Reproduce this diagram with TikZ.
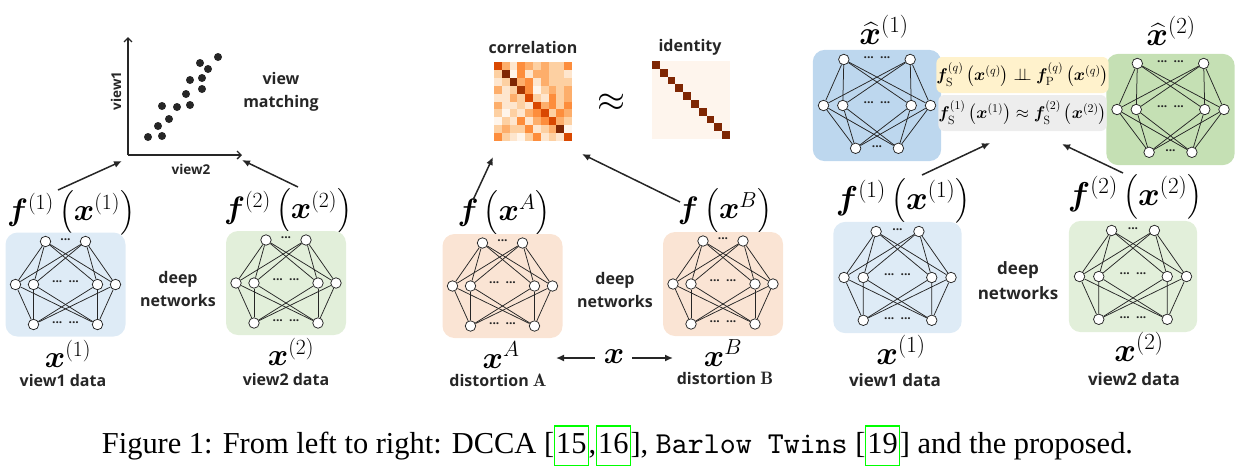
\RequirePackage{fix-cm}
\documentclass[tikz,border=0pt]{standalone}
\usepackage{amsmath}
\usepackage{bm}
\usepackage{graphicx}
\usepackage{fontspec}
\newfontfamily\lblfont{Open Sans}
\newfontfamily\capfont{Liberation Serif}
\usetikzlibrary{arrows.meta}
\usepackage{xcolor}

\definecolor{netblue}{RGB}{222,235,246}
\definecolor{netgreen}{RGB}{226,239,218}
\definecolor{netpeach}{RGB}{250,228,212}
\definecolor{topblue}{RGB}{189,215,238}
\definecolor{topgreen}{RGB}{197,224,180}
\definecolor{boxyellow}{RGB}{255,242,204}
\definecolor{boxgray}{RGB}{237,237,237}
\definecolor{inkgray}{RGB}{38,38,38}
\definecolor{iddiag}{RGB}{127,39,4}
\definecolor{idback}{RGB}{254,245,237}
% oranges colour scale of the heat map
\definecolor{O0}{RGB}{255,245,235}
\definecolor{O1}{RGB}{254,230,206}
\definecolor{O2}{RGB}{253,208,162}
\definecolor{O3}{RGB}{253,174,107}
\definecolor{O4}{RGB}{253,141,60}
\definecolor{O5}{RGB}{241,105,19}
\definecolor{O6}{RGB}{217,72,1}
\definecolor{O7}{RGB}{166,54,3}
\definecolor{O8}{RGB}{127,39,4}

\tikzset{%
	neuron/.style={
		circle,
		draw=inkgray,
		fill=white,
		line width=0.75pt,
		minimum size=10.5pt,
		inner sep=0pt
	},
	link/.style={draw=inkgray, line width=0.75pt},
	gapdots/.style={font=\lblfont\bfseries\fontsize{12}{12}\selectfont, text=inkgray, inner sep=0pt},
	lbl/.style={font=\lblfont\bfseries\fontsize{16}{23}\selectfont, text=inkgray, align=center, inner sep=0pt},
	lblR/.style={font=\lblfont\bfseries\fontsize{17}{25}\selectfont, text=inkgray, align=center, inner sep=0pt},
	axlbl/.style={font=\lblfont\bfseries\fontsize{13.5}{16}\selectfont, text=inkgray, inner sep=0pt},
	mlbl/.style={font=\fontsize{31}{35}\selectfont, inner sep=0pt},
	mlblR/.style={font=\fontsize{33}{37}\selectfont, inner sep=0pt},
	formbox/.style={minimum width=165pt, minimum height=36pt, rounded corners=6pt, inner sep=0pt, font=\fontsize{17}{20}\selectfont},
	arr/.style={-{Latex[length=8pt,width=7pt]}, line width=1.5pt, draw=inkgray},
	axis/.style={-{Straight Barb[length=4pt,width=8pt]}, line width=1.3pt, draw=inkgray},
}

% one small network on a rounded panel
% #1 name, #2 centre, #3 scale, #4 colour, #5 top half gap, #6 bottom half gap, #7 top dots, #8 bottom dots
\newcommand{\netpanel}[8]{%
	\begin{scope}[shift={#2}, scale=#3]
		\fill[#4, rounded corners=12pt] (-60,-52) rectangle (60,52);
		\node[neuron] (#1t1) at (-#5,-43) {};
		\node[neuron] (#1t2) at (#5,-43) {};
		\node[neuron] (#1m1) at (-50,0) {};
		\node[neuron] (#1m2) at (-32,0) {};
		\node[neuron] (#1m3) at (32,0) {};
		\node[neuron] (#1m4) at (50,0) {};
		\node[neuron] (#1b1) at (-#6,40) {};
		\node[neuron] (#1b2) at (#6,40) {};
		\foreach \p in {t1,t2,b1,b2}
			\foreach \q in {m1,m2,m3,m4}
				\draw[link] (#1\p) -- (#1\q);
		\node[gapdots] (#1dt) at (0,-45) {#7};
		\node[gapdots] (#1dm) at (0,-3) {...~~...};
		\node[gapdots] (#1db) at (0,38) {#8};
	\end{scope}}

\newcommand{\citebox}[1]{{\setlength{\fboxsep}{0.3pt}\setlength{\fboxrule}{0.35pt}\textcolor{green}{\fbox{\strut\textcolor{black}{#1}}}}}

\begin{document}
\begin{tikzpicture}[x=1pt, y=-1pt]
	\useasboundingbox (0,0) rectangle (1241,472);
	
	% DCCA: the matching plot
	\coordinate (orig) at (128,155);
	\coordinate (ytip) at (128,37);
	\coordinate (xtip) at (242,155);
	\draw[axis] (orig) -- (ytip);
	\draw[axis] (orig) -- (xtip);
	\node[axlbl, rotate=90] (v1ax) at (116,91) {view1};
	\node[axlbl] (v2ax) at (191,169) {view2};
	\foreach \px/\py in {148/137, 162/136, 158/126, 169/119, 162/106, 177/107, 190/105,
		186/94, 190/80, 202/89, 202/78, 200/63, 208/69, 218/57}
		\fill[inkgray] (\px,\py) circle (4pt);
	\node[lbl] (vmatch) at (281,92) {view\\matching};
	
	% DCCA: the two networks
	\node[mlbl] (fL1) at (71,213) {$\bm{f}^{(1)}\left(\bm{x}^{(1)}\right)$};
	\node[mlbl] (fL2) at (288,211) {$\bm{f}^{(2)}\left(\bm{x}^{(2)}\right)$};
	\netpanel{la}{(65.5,284.5)}{1}{netblue}{20}{32}{...}{...~~...}
	\netpanel{lb}{(286,283)}{1}{netgreen}{20}{32}{...}{...~~...}
	\node[lbl] (deepL) at (178,289) {deep\\networks};
	\node[mlbl] (xL1) at (68,354) {$\bm{x}^{(1)}$};
	\node[lbl] (dL1) at (63,380) {view1 data};
	\node[mlbl] (xL2) at (291,352) {$\bm{x}^{(2)}$};
	\node[lbl] (dL2) at (286,379) {view2 data};
	\coordinate (aL1s) at (58,190);
	\coordinate (aL1e) at (122,161);
	\coordinate (aL2s) at (298,187);
	\coordinate (aL2e) at (242,160);
	\draw[arr] (aL1s) -- (aL1e);
	\draw[arr] (aL2s) -- (aL2e);
	
	% Barlow Twins: correlation and identity
	\node[lbl] (corrlbl) at (533,47) {correlation};
	\node[minimum width=78pt, minimum height=79pt, inner sep=0pt, anchor=north west] (corr) at (494,62) {};
	\begin{scope}[shift={(corr.north west)}]
		\foreach \row [count=\i from 0] in {{6,3,1,4,3,2,3,2,2,4},{2,8,0,4,1,3,3,2,2,1},
			{1,2,8,3,4,1,3,2,2,2},{3,1,2,7,4,0,2,3,2,3},{1,1,3,2,6,2,1,4,2,3},
			{3,1,1,2,1,6,3,4,2,4},{2,0,2,1,3,4,6,2,4,3},{0,2,1,4,1,3,4,6,3,2},
			{2,3,2,2,4,1,2,3,8,0},{4,2,1,0,2,4,1,2,1,6}}
		{
			\foreach \v [count=\j from 0] in \row
				\fill[O\v] (\j*7.8,\i*7.9) rectangle ++(8,8.1);
		}
	\end{scope}
	\node[font=\fontsize{36}{40}\selectfont, inner sep=0pt] (approx) at (611,103) {$\approx$};
	\node[lbl] (idlbl) at (690,47) {identity};
	\node[fill=idback, minimum width=78pt, minimum height=78pt, inner sep=0pt, anchor=north west] (iden) at (652,61) {};
	\begin{scope}[shift={(iden.north west)}]
		\foreach \k in {0,...,9}
			\fill[iddiag] (\k*7.8,\k*7.8) rectangle ++(7.8,7.8);
	\end{scope}
	
	% Barlow Twins: the two networks
	\node[mlbl] (fA) at (504,213) {$\bm{f}\left(\bm{x}^{A}\right)$};
	\node[mlbl] (fB) at (725,211) {$\bm{f}\left(\bm{x}^{B}\right)$};
	\netpanel{ma}{(502.5,286)}{1}{netpeach}{20}{32}{...}{...~~...}
	\netpanel{mb}{(723,284)}{1}{netpeach}{20}{32}{...}{...~~...}
	\node[lbl] (deepM) at (615,290) {deep\\networks};
	\node[mlbl] (xA) at (501,355) {$\bm{x}^{A}$};
	\node[lbl] (dA) at (498,380) {distortion {\fontsize{18}{23}\selectfont$\bm{\mathrm{A}}$}};
	\node[mlbl] (xmid) at (614,357) {$\bm{x}$};
	\node[mlbl] (xB) at (723,353) {$\bm{x}^{B}$};
	\node[lbl] (dB) at (725,378) {distortion {\fontsize{18}{23}\selectfont$\bm{\mathrm{B}}$}};
	\coordinate (aMAs) at (473,200);
	\coordinate (aMAe) at (493,157);
	\coordinate (aMBs) at (680,202);
	\coordinate (aMBe) at (582,154);
	\coordinate (xl) at (595,358);
	\coordinate (xle) at (556,358);
	\coordinate (xr) at (632,358);
	\coordinate (xre) at (673,358);
	\draw[arr] (aMAs) -- (aMAe);
	\draw[arr] (aMBs) -- (aMBe);
	\draw[arr] (xl) -- (xle);
	\draw[arr] (xr) -- (xre);
	
	% proposed: reconstruction networks and the two conditions
	\node[mlblR] (xh1) at (884,30) {$\widehat{\bm{x}}^{(1)}$};
	\node[mlblR] (xh2) at (1171,31) {$\widehat{\bm{x}}^{(2)}$};
	\netpanel{ra}{(877,105.5)}{1.07}{topblue}{31}{20}{...~~...}{...}
	\netpanel{rb}{(1170.5,109.5)}{1.07}{topgreen}{31}{20}{...~~...}{...}
	\node[formbox, fill=boxyellow] (indep) at (1022.5,75)
		{$\bm{f}_{\mathrm{S}}^{(q)}\left(\bm{x}^{(q)}\right)\perp\!\!\!\perp\bm{f}_{\mathrm{P}}^{(q)}\left(\bm{x}^{(q)}\right)$};
	\node[formbox, fill=boxgray] (match) at (1022.5,113)
		{$\bm{f}_{\mathrm{S}}^{(1)}\left(\bm{x}^{(1)}\right)\approx\bm{f}_{\mathrm{S}}^{(2)}\left(\bm{x}^{(2)}\right)$};
	
	% proposed: the two encoders
	\node[mlblR] (fR1) at (903,201) {$\bm{f}^{(1)}\left(\bm{x}^{(1)}\right)$};
	\node[mlblR] (fR2) at (1135,197) {$\bm{f}^{(2)}\left(\bm{x}^{(2)}\right)$};
	\netpanel{rc}{(897.5,277.5)}{1.07}{netblue}{20}{32}{...}{...~~...}
	\netpanel{rd}{(1133,276.5)}{1.07}{netgreen}{20}{32}{...}{...~~...}
	\node[lblR] (deepR) at (1018,281) {deep\\networks};
	\node[mlblR] (xR1) at (901,350) {$\bm{x}^{(1)}$};
	\node[lblR] (dR1) at (895,380) {view1 data};
	\node[mlblR] (xR2) at (1139,347) {$\bm{x}^{(2)}$};
	\node[lblR] (dR2) at (1134,379) {view2 data};
	\coordinate (aR1s) at (922,175);
	\coordinate (aR1e) at (990,143);
	\coordinate (aR2s) at (1123,173);
	\coordinate (aR2e) at (1062,144);
	\draw[arr] (aR1s) -- (aR1e);
	\draw[arr] (aR2s) -- (aR2e);
	
	% caption
	\node[anchor=base, inner sep=0pt] (cap) at (617.5,453)
		{\resizebox{1031pt}{!}{\capfont Figure 1: From left to right: DCCA [\citebox{15},\citebox{16}], {\ttfamily Barlow Twins} [\citebox{19}] and the proposed.}};
\end{tikzpicture}
\end{document}
